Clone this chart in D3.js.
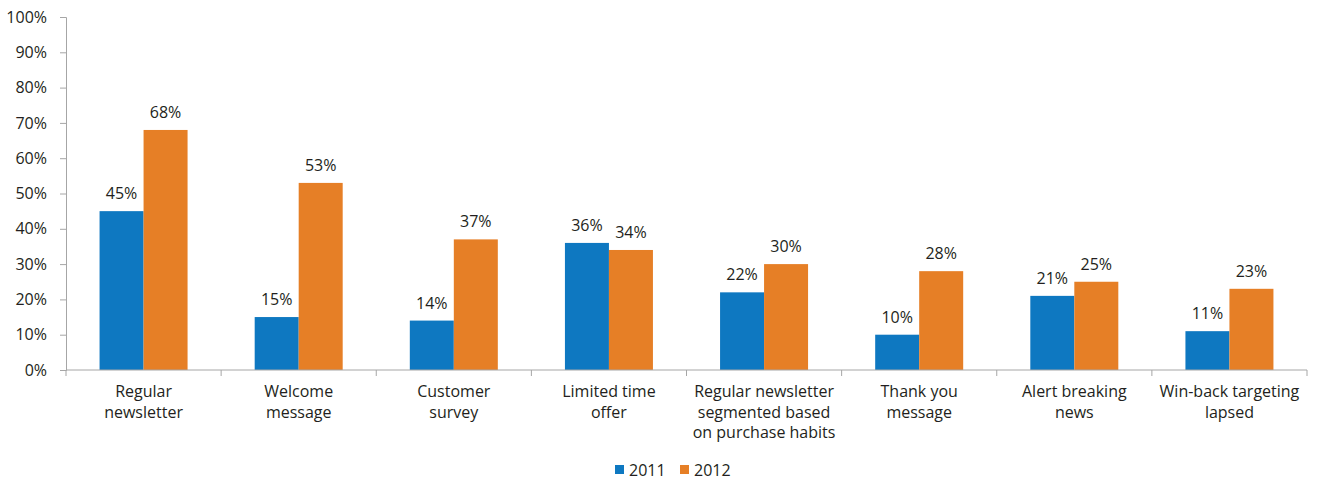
<!DOCTYPE html>
<html>
<head>
<meta charset="utf-8">
<script src="https://cdn.jsdelivr.net/npm/d3@7"></script>
<style>
  html, body { margin: 0; padding: 0; background: #fff; }
  svg text { font-family: "Open Sans", "Noto Sans", sans-serif; fill: #231f20; }
</style>
</head>
<body>
<svg id="chart" width="1317" height="481"></svg>
<script>
// Email program types by year (% of respondents)
const categories = [
  ["Regular", "newsletter"],
  ["Welcome", "message"],
  ["Customer", "survey"],
  ["Limited time", "offer"],
  ["Regular newsletter", "segmented based", "on purchase habits"],
  ["Thank you", "message"],
  ["Alert breaking", "news"],
  ["Win-back targeting", "lapsed"]
];
const series = ["2011", "2012"];
const values2011 = [45, 15, 14, 36, 22, 10, 21, 11];
const values2012 = [68, 53, 37, 34, 30, 28, 25, 23];
const yTicks = [0, 10, 20, 30, 40, 50, 60, 70, 80, 90, 100];
const colors = ["#0e78c1", "#e67f26"];

const svg = d3.select("#chart");
const x0 = 66, x1 = 1307, yTop = 17, yBot = 370;
const fs = 16;

const idx = d3.range(categories.length);
const x = d3.scaleBand().domain(idx).range([x0, x1]).paddingInner(0).paddingOuter(0);
const barW = 44;
const xs = d3.scaleBand().domain(series).range([0, barW * 2]);
const y = d3.scaleLinear().domain([0, 100]).range([yBot, yTop]);

// Y axis
const yAxis = d3.axisLeft(y).tickValues(yTicks).tickFormat(d => d + "%").tickSize(6).tickPadding(13);
const gy = svg.append("g").attr("transform", `translate(${x0},0)`).call(yAxis);
gy.select(".domain").attr("stroke", "#a6a6a6");
gy.selectAll(".tick line").attr("stroke", "#a6a6a6");
gy.selectAll(".tick text").attr("font-size", fs).style("fill", "#231f20");

// Bars
const data = idx.map(i => ({ i, vals: [values2011[i], values2012[i]] }));
const groups = svg.append("g").selectAll("g").data(data).join("g")
  .attr("transform", d => `translate(${x(d.i) + (x.bandwidth() - barW * 2) / 2},0)`);

groups.selectAll("rect").data(d => d.vals.map((v, k) => ({ v, k }))).join("rect")
  .attr("x", d => xs(series[d.k]))
  .attr("width", xs.bandwidth())
  .attr("y", d => y(d.v))
  .attr("height", d => yBot - y(d.v))
  .attr("fill", d => colors[d.k]);

groups.selectAll("text.val").data(d => d.vals.map((v, k) => ({ v, k }))).join("text")
  .attr("class", "val")
  .attr("x", d => xs(series[d.k]) + xs.bandwidth() / 2)
  .attr("y", d => y(d.v) - 12)
  .attr("text-anchor", "middle")
  .attr("font-size", fs)
  .text(d => d.v + "%");

// X axis with ticks at category boundaries
svg.append("line").attr("x1", x0).attr("x2", x1).attr("y1", yBot).attr("y2", yBot)
  .attr("stroke", "#a6a6a6");
svg.append("g").selectAll("line").data(d3.range(categories.length + 1)).join("line")
  .attr("x1", i => x0 + i * x.step()).attr("x2", i => x0 + i * x.step())
  .attr("y1", yBot).attr("y2", yBot + 6).attr("stroke", "#a6a6a6");

// Category labels
const cl = svg.append("g").selectAll("text").data(idx).join("text")
  .attr("x", i => x(i) + x.bandwidth() / 2)
  .attr("y", 397)
  .attr("text-anchor", "middle")
  .attr("font-size", fs);
cl.selectAll("tspan").data(i => categories[i]).join("tspan")
  .attr("x", function() { return d3.select(this.parentNode).attr("x"); })
  .attr("dy", (d, j) => j === 0 ? 0 : 20.5)
  .text(d => d);

// Legend
const legend = svg.append("g").attr("transform", "translate(615,470)");
const lx = [0, 65];
series.forEach((s, k) => {
  legend.append("rect").attr("x", lx[k]).attr("y", -5).attr("width", 9).attr("height", 9).attr("fill", colors[k]);
  legend.append("text").attr("x", lx[k] + 14).attr("y", 5.5).attr("font-size", fs).text(s);
});
</script>
</body>
</html>
